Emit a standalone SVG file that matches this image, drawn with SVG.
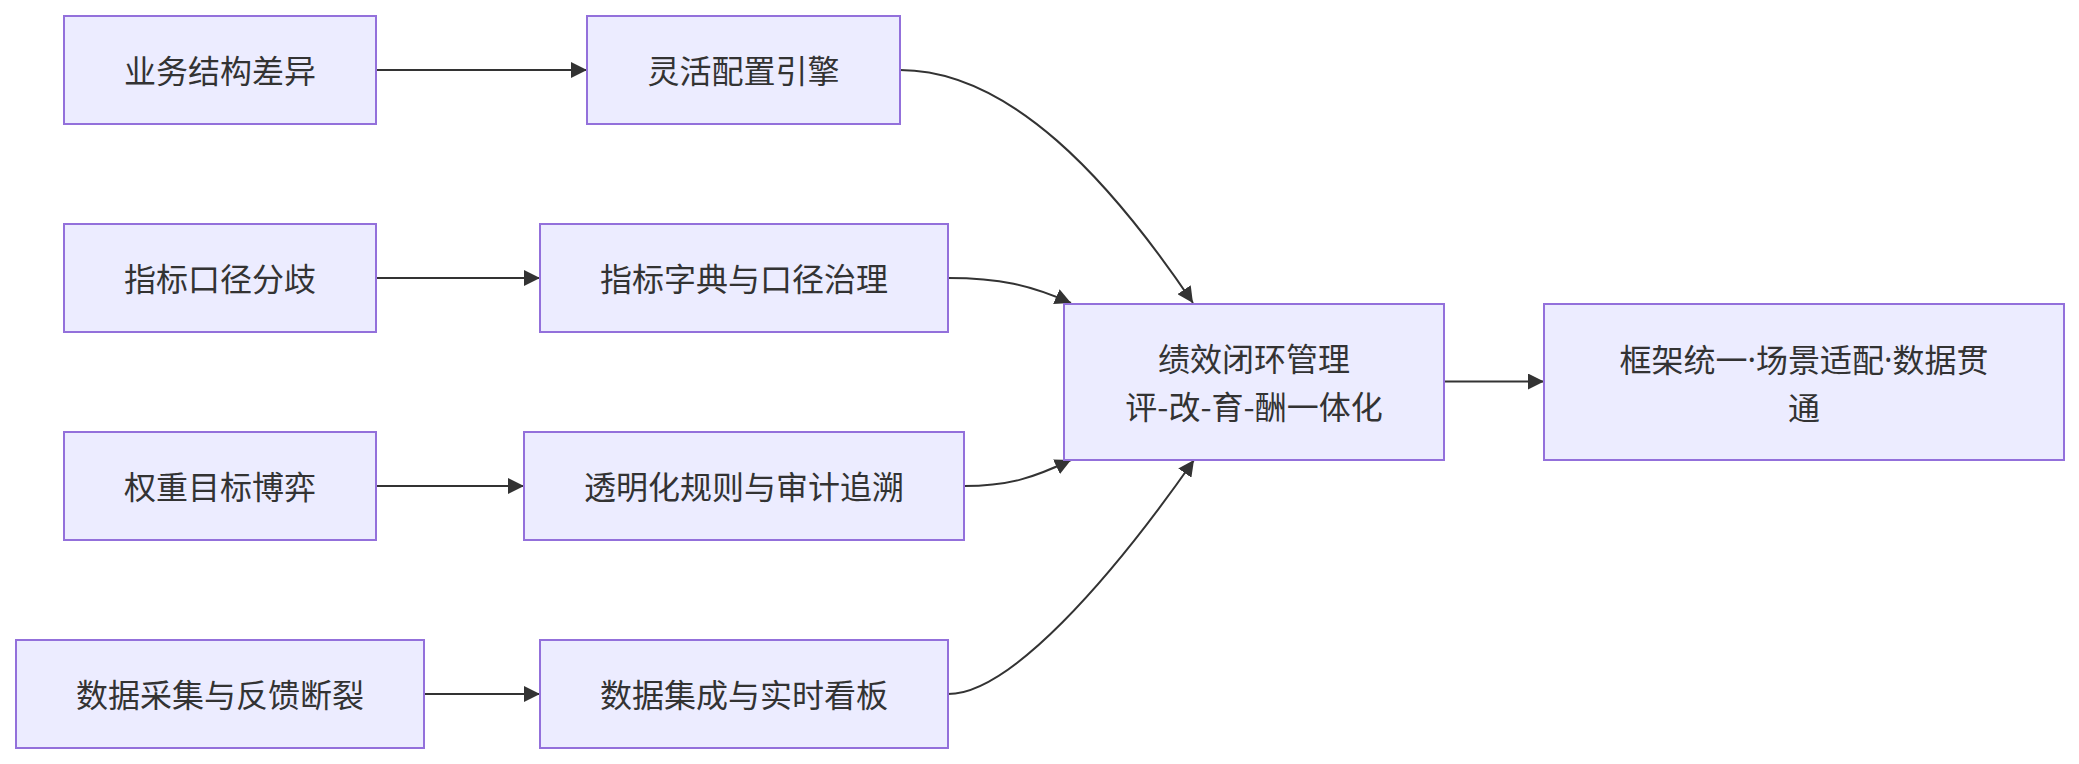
<svg xmlns="http://www.w3.org/2000/svg" width="2079" height="764" viewBox="0 0 2079 764">
<style>
.node rect{fill:#ECECFF;stroke:#9370DB;stroke-width:2}
.node text{font-family:"Noto Sans CJK SC","Noto Sans",sans-serif;font-size:32px;fill:#333333;text-anchor:middle;dominant-baseline:central}
.node tspan.dot{font-family:"Noto Sans","Liberation Sans",sans-serif}
.edges path{fill:none;stroke:#333333;stroke-width:2}
</style>
<defs>
<marker id="arrow" viewBox="0 0 10 10" refX="10" refY="5" markerUnits="userSpaceOnUse" markerWidth="16" markerHeight="16" orient="auto">
<path d="M0,0 L10,5 L0,10 z" fill="#333333"/>
</marker>
</defs>
<rect width="2079" height="764" fill="#ffffff"/>
<g class="edges">
<path d="M376,70 L587,70" marker-end="url(#arrow)"/>
<path d="M376,278 L540,278" marker-end="url(#arrow)"/>
<path d="M376,486 L524,486" marker-end="url(#arrow)"/>
<path d="M424,694 L540,694" marker-end="url(#arrow)"/>
<path d="M900,70 C1010,70 1110,180 1193,303" marker-end="url(#arrow)"/>
<path d="M948,278 C1000,278 1030,285 1071,303" marker-end="url(#arrow)"/>
<path d="M964,486 C1010,486 1035,477 1071,460" marker-end="url(#arrow)"/>
<path d="M948,694 C1010,694 1110,580 1194,460" marker-end="url(#arrow)"/>
<path d="M1444,381.5 L1544,381.5" marker-end="url(#arrow)"/>
</g>
<g id="A1" class="node"><rect x="64" y="16" width="312" height="108"/><text x="220" y="69">业务结构差异</text></g>
<g id="A2" class="node"><rect x="64" y="224" width="312" height="108"/><text x="220" y="277">指标口径分歧</text></g>
<g id="A3" class="node"><rect x="64" y="432" width="312" height="108"/><text x="220" y="485">权重目标博弈</text></g>
<g id="A4" class="node"><rect x="16" y="640" width="408" height="108"/><text x="220" y="693">数据采集与反馈断裂</text></g>
<g id="B1" class="node"><rect x="587" y="16" width="313" height="108"/><text x="743.5" y="69">灵活配置引擎</text></g>
<g id="B2" class="node"><rect x="540" y="224" width="408" height="108"/><text x="744" y="277">指标字典与口径治理</text></g>
<g id="B3" class="node"><rect x="524" y="432" width="440" height="108"/><text x="744" y="485">透明化规则与审计追溯</text></g>
<g id="B4" class="node"><rect x="540" y="640" width="408" height="108"/><text x="744" y="693">数据集成与实时看板</text></g>
<g id="C" class="node"><rect x="1064" y="304" width="380" height="156"/><text x="1254" y="357">绩效闭环管理</text><text x="1254" y="405">评-改-育-酬一体化</text></g>
<g id="D" class="node"><rect x="1544" y="304" width="520" height="156"/><text x="1804" y="357.5">框架统一<tspan class="dot">·</tspan>场景适配<tspan class="dot">·</tspan>数据贯</text><text x="1804" y="406">通</text></g>
</svg>
